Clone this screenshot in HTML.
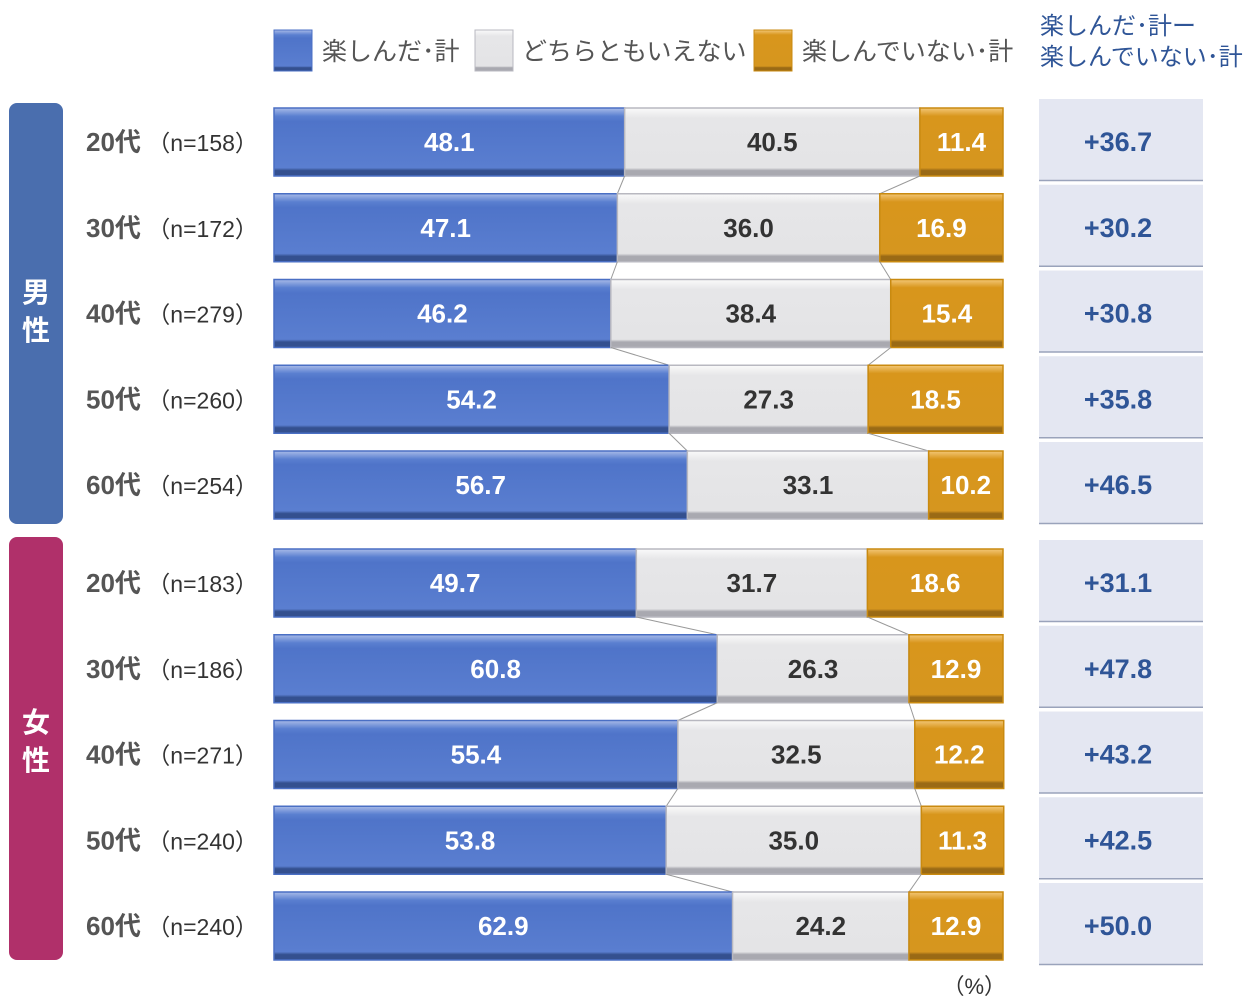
<!DOCTYPE html>
<html><head><meta charset="utf-8">
<style>
body{margin:0;background:#fff;width:1250px;height:1000px;overflow:hidden;font-family:"Liberation Sans","Noto Sans CJK JP",sans-serif;}
svg{position:absolute;left:0;top:0}
</style></head>
<body>
<svg id="chart" width="1250" height="1000" xmlns="http://www.w3.org/2000/svg">
<defs>
<linearGradient id="gb" x1="0" y1="0" x2="0" y2="1"><stop offset="0" stop-color="#a9bbe8"/><stop offset="0.12" stop-color="#5a7fd0"/><stop offset="0.2" stop-color="#4f74c9"/><stop offset="0.88" stop-color="#5a7ed0"/><stop offset="0.92" stop-color="#34508f"/><stop offset="1" stop-color="#34508f"/></linearGradient>
<linearGradient id="gg" x1="0" y1="0" x2="0" y2="1"><stop offset="0" stop-color="#fafafa"/><stop offset="0.15" stop-color="#e6e6e8"/><stop offset="0.88" stop-color="#e4e4e6"/><stop offset="0.92" stop-color="#a9a9b0"/><stop offset="1" stop-color="#a9a9b0"/></linearGradient>
<linearGradient id="go" x1="0" y1="0" x2="0" y2="1"><stop offset="0" stop-color="#f3c777"/><stop offset="0.12" stop-color="#d8961c"/><stop offset="0.88" stop-color="#d6961f"/><stop offset="0.92" stop-color="#9a6a15"/><stop offset="1" stop-color="#9a6a15"/></linearGradient>
</defs>
<g>
<rect x="274" y="30" width="38" height="41" fill="url(#gb)" stroke="#4a6fc4"/>
<text x="322" y="60" font-size="25" fill="#555">楽しんだ･計</text>
<rect x="475" y="30" width="38" height="41" fill="url(#gg)" stroke="#b8b8c0"/>
<text x="522" y="60" font-size="25" fill="#555">どちらともいえない</text>
<rect x="754" y="30" width="38" height="41" fill="url(#go)" stroke="#c98a10"/>
<text x="802" y="60" font-size="25" fill="#555">楽しんでいない･計</text>
</g>
<text x="1040" y="34" font-size="24" fill="#2f5597"><tspan x="1040">楽しんだ･計ー</tspan><tspan x="1040" dy="31">楽しんでいない･計</tspan></text>
<rect x="9" y="103" width="54" height="421" rx="8" fill="#4a6eae"/>
<text x="36" y="302" font-size="28" font-weight="bold" fill="#fff" text-anchor="middle"><tspan x="36">男</tspan><tspan x="36" dy="38">性</tspan></text>
<rect x="9" y="537" width="54" height="423" rx="8" fill="#b0306a"/>
<text x="36" y="732" font-size="28" font-weight="bold" fill="#fff" text-anchor="middle"><tspan x="36">女</tspan><tspan x="36" dy="38">性</tspan></text>
<text x="1006" y="994" font-size="22" fill="#333" text-anchor="end">（%）</text>
<g id="marks"></g>
</svg>
<script>
const ages = ["20代","30代","40代","50代","60代","20代","30代","40代","50代","60代"];
const ns = ["158","172","279","260","254","183","186","271","240","240"];
const enjoyed = [48.1,47.1,46.2,54.2,56.7,49.7,60.8,55.4,53.8,62.9];
const neither = [40.5,36.0,38.4,27.3,33.1,31.7,26.3,32.5,35.0,24.2];
const notEnjoyed = [11.4,16.9,15.4,18.5,10.2,18.6,12.9,12.2,11.3,12.9];
const diffs = ["+36.7","+30.2","+30.8","+35.8","+46.5","+31.1","+47.8","+43.2","+42.5","+50.0"];

const X0 = 274, W = 729, BH = 68, PITCH = 85.75;
const xs = v => X0 + v / 100 * W;
const rowTop = i => (i < 5 ? 108 : 549) + (i % 5) * PITCH;
const NS = "http://www.w3.org/2000/svg";
const g = document.getElementById("marks");
function mk(tag, attrs, text){
  const e = document.createElementNS(NS, tag);
  for (const k in attrs) e.setAttribute(k, attrs[k]);
  if (text !== undefined) e.textContent = text;
  g.appendChild(e); return e;
}
const fills = ["url(#gb)","url(#gg)","url(#go)"];
const strokes = ["#4a6fc4","#b8b8c0","#c98a10"];
const tcol = ["#fff","#333","#fff"];
const segNames = ["enjoyed","neither","not-enjoyed"];
for (let i = 0; i < enjoyed.length; i++) {
  const y = rowTop(i);
  const vals = [enjoyed[i], neither[i], notEnjoyed[i]];
  let cum = 0;
  for (let s = 0; s < 3; s++) {
    const x1 = xs(cum), x2 = xs(cum + vals[s]);
    const r = mk("rect", {x: x1, y: y, width: x2 - x1, height: BH, fill: fills[s], stroke: strokes[s], "stroke-width": 1.5});
    
    
    const t = mk("text", {x: (x1 + x2) / 2, y: y + BH / 2 + 9, "font-size": 26, "font-weight": "bold", fill: tcol[s], "text-anchor": "middle"}, vals[s].toFixed(1));
    
    
    cum += vals[s];
  }
  const lab = mk("text", {x: 86, y: y + BH / 2 + 9, "font-size": 26, fill: "#555"});
  
  
  const a = document.createElementNS(NS, "tspan"); a.setAttribute("font-weight", "bold"); a.textContent = ages[i]; lab.appendChild(a);
  const b = document.createElementNS(NS, "tspan"); b.setAttribute("font-size", "23"); b.setAttribute("fill", "#333"); b.textContent = " （n=" + ns[i] + "）"; lab.appendChild(b);
  if (i % 5 !== 4) {
    const b1 = [enjoyed[i], enjoyed[i] + neither[i]];
    const b2 = [enjoyed[i + 1], enjoyed[i + 1] + neither[i + 1]];
    for (let k = 0; k < 2; k++) {
      const l = mk("line", {x1: xs(b1[k]), y1: y + BH, x2: xs(b2[k]), y2: rowTop(i + 1), stroke: "#999", "stroke-width": 1});
      
      
    }
  }
  const by = y - 9;
  const box = mk("rect", {x: 1039, y: by, width: 164, height: 81, fill: "#e4e7f2"});
  
  
  const ln = mk("line", {x1: 1039, y1: by + 81.5, x2: 1203, y2: by + 81.5, stroke: "#9aa3bb", "stroke-width": 1.5});
  
  
  const dt = mk("text", {x: 1118, y: y + BH / 2 + 9, "font-size": 27, "font-weight": "bold", fill: "#2f5597", "text-anchor": "middle"}, diffs[i]);
  
  
}
</script>
</body></html>
